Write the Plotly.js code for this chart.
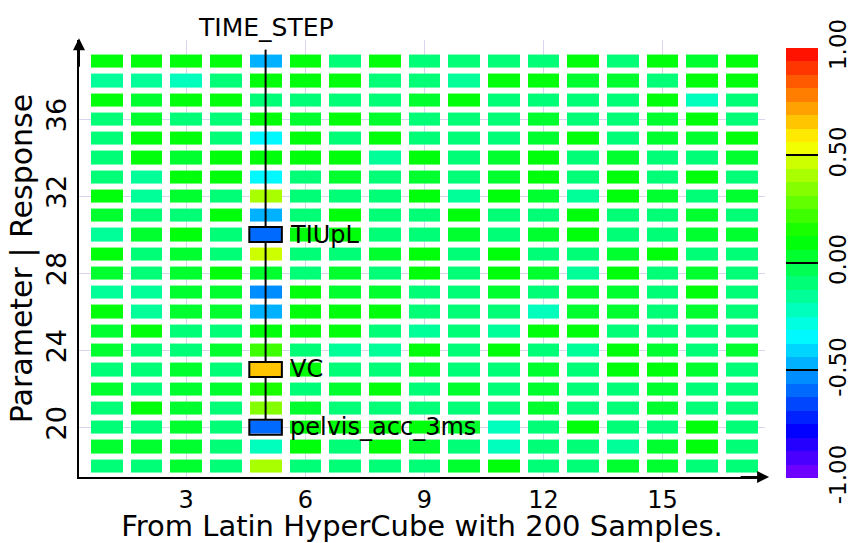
<!DOCTYPE html>
<html>
<head>
<meta charset="utf-8">
<script src="https://cdn.plot.ly/plotly-3.0.1.min.js"></script>
<style>html,body{margin:0;padding:0;background:#fff;}#chart{width:848px;height:543px;}</style>
</head>
<body>
<div id="chart"></div>
<script>
// columns (parameter / time step index) and rows (response index)
const xCols = [1,2,3,4,5,6,7,8,9,10,11,12,13,14,15,16,17];
const yRows = [18,19,20,21,22,23,24,25,26,27,28,29,30,31,32,33,34,35,36,37,38,39];

// correlation values, one array per row (row 18 at bottom ... row 39 at top)
const row18 = [-0.09,-0.09,0.02,-0.09,0.43,-0.09,-0.09,-0.09,-0.09,0.02,0.1,-0.09,-0.09,0.02,0.02,-0.09,-0.09];
const row19 = [0.02,0.02,0.02,-0.09,-0.21,0.11,-0.09,0.1,0.02,-0.09,-0.19,-0.09,-0.09,-0.15,0.02,0.11,-0.09];
const row20 = [-0.09,-0.09,0.02,-0.09,-0.6,0.1,0.1,0.1,0.1,0.02,-0.19,-0.09,0.11,-0.09,-0.11,0.11,-0.09];
const row21 = [-0.09,0.12,0.02,-0.09,0.32,0.06,-0.09,-0.08,-0.09,-0.09,-0.09,0.02,-0.09,-0.08,0.02,-0.09,-0.09];
const row22 = [0.02,-0.09,0.02,0.02,0.15,-0.09,0.02,0.11,-0.09,0.02,-0.09,0.02,-0.09,-0.08,0.02,-0.12,-0.09];
const row23 = [-0.08,-0.09,0.02,-0.09,0.67,0.11,-0.09,-0.09,0.02,-0.09,-0.1,0.02,-0.09,0.1,0.11,0.02,-0.09];
const row24 = [0.06,-0.09,-0.09,0.02,0.2,-0.09,-0.15,-0.15,0.11,-0.09,0.11,-0.09,-0.17,0.1,0.02,-0.09,0.02];
const row25 = [0.02,0.12,-0.09,-0.09,0.1,0.11,0.11,-0.09,-0.17,-0.09,-0.17,0.12,0.12,-0.08,-0.08,-0.09,-0.09];
const row26 = [0.08,-0.15,0.02,0.02,-0.5,0.11,0.11,0.1,-0.09,-0.09,-0.09,-0.19,0.02,0.02,-0.08,0.02,-0.09];
const row27 = [-0.17,-0.15,0.02,0.02,-0.52,0.1,0.02,0.02,-0.09,-0.09,0.02,-0.11,0.02,0.02,-0.08,0.1,-0.09];
const row28 = [0.02,-0.09,0.02,0.12,0.06,-0.09,0.02,-0.09,0.11,-0.09,0.1,0.03,-0.17,0.12,-0.08,0.03,-0.09];
const row29 = [0.1,-0.09,0.02,-0.09,0.47,-0.09,-0.09,0.02,0.1,-0.09,0.1,-0.09,-0.08,0.02,0.08,-0.09,-0.09];
const row30 = [-0.17,0.0,0.12,-0.08,-0.62,0.11,0.1,-0.09,-0.09,0.02,-0.1,0.02,0.11,-0.09,-0.08,0.02,0.02];
const row31 = [0.02,-0.09,-0.08,0.11,-0.45,-0.09,0.11,-0.08,-0.09,0.11,-0.09,-0.09,0.11,-0.08,-0.1,0.02,-0.11];
const row32 = [0.1,-0.14,0.02,-0.09,0.42,-0.09,-0.09,-0.08,0.11,-0.15,0.1,0.02,-0.17,0.11,0.02,-0.09,0.02];
const row33 = [-0.09,-0.14,0.1,0.11,-0.35,-0.1,0.02,-0.08,0.02,-0.09,0.04,0.1,-0.09,0.1,-0.1,0.1,-0.11];
const row34 = [-0.09,0.11,0.02,0.1,0.1,0.08,0.1,-0.18,0.11,-0.09,0.02,0.1,-0.09,0.02,-0.08,-0.08,0.02];
const row35 = [-0.09,0.11,0.11,-0.09,-0.36,0.1,-0.09,0.11,-0.09,-0.08,-0.09,0.02,0.11,-0.1,0.02,0.02,0.11];
const row36 = [-0.09,0.02,-0.09,-0.09,0.1,0.02,0.1,0.02,-0.09,-0.09,-0.1,0.02,-0.09,-0.09,0.02,0.1,-0.09];
const row37 = [0.11,0.02,0.11,0.1,-0.1,-0.09,-0.09,-0.09,0.02,0.11,-0.09,-0.11,-0.09,-0.09,0.11,-0.2,-0.09];
const row38 = [-0.15,-0.15,-0.19,-0.08,0.1,0.1,0.1,-0.09,-0.1,-0.14,0.1,0.1,0.02,0.02,-0.11,0.1,0.1];
const row39 = [0.08,0.1,0.08,0.08,-0.5,0.1,-0.09,0.1,-0.09,-0.08,-0.09,-0.09,0.1,-0.08,0.1,0.02,0.1];

// highlighted time step column and responses
const timeStepCol = 5;
const timeStepLabel = 'TIME_STEP';
const respNames = ['TIUpL','VC','pelvis_acc_3ms'];
const respRows = [30,23,20];

// tick labels
const xTicks = [3,6,9,12,15];
const yTicks = [20,24,28,32,36];
const cbTicks = [-1,-0.5,0,0.5,1];
const cbTickText = ['-1.00','-0.50','0.00','0.50','1.00'];

const z = [row18,row19,row20,row21,row22,row23,row24,row25,row26,row27,row28,row29,row30,row31,row32,row33,row34,row35,row36,row37,row38,row39];

// banded rainbow colour scale (purple -> red), 32 bands
const nBands = 32;
const colorscale = [];
for (let i = 0; i < nBands; i++) {
  const h = 270 - (i + 0.5) * 270 / nBands;
  const c = 'hsl(' + h.toFixed(2) + ',100%,50%)';
  colorscale.push([i / nBands, c]);
  colorscale.push([(i + 1) / nBands, c]);
}

const FONT = 'DejaVu Sans, Verdana, sans-serif';
const boxHW = 0.41, boxHH = 0.39, lineTop = 39.6;

// connector line between highlighted cells (broken at boxes)
const sorted = respRows.slice().sort((a,b)=>b-a);
const lx = [], ly = [];
let prevTop = lineTop;
sorted.forEach((r) => {
  lx.push(timeStepCol, timeStepCol, null);
  ly.push(prevTop, r + boxHH, null);
  prevTop = r - boxHH;
});

const heat = {
  type: 'heatmap',
  x: xCols, y: yRows, z: z,
  zmin: -1, zmax: 1,
  colorscale: colorscale,
  xgap: 8, ygap: 6,
  hoverinfo: 'skip',
  colorbar: {
    thickness: 32, thicknessmode: 'pixels',
    len: 430, lenmode: 'pixels',
    x: 1.0306, xanchor: 'left', xpad: 0,
    y: 0.49, yanchor: 'middle', ypad: 0,
    outlinewidth: 0,
    tickmode: 'array', tickvals: cbTicks, ticktext: cbTickText,
    ticks: 'inside', ticklen: 32, tickwidth: 2, tickcolor: '#000',
    tickangle: -90,
    tickfont: {family: FONT, size: 23, color: '#000'}
  }
};

const conn = {
  type: 'scatter', mode: 'lines',
  x: lx, y: ly,
  line: {color: '#000', width: 2},
  hoverinfo: 'skip', showlegend: false
};

const shapes = respRows.map(r => ({
  type: 'rect', xref: 'x', yref: 'y',
  x0: timeStepCol - boxHW, x1: timeStepCol + boxHW,
  y0: r - boxHH, y1: r + boxHH,
  line: {color: '#000', width: 2}, fillcolor: 'rgba(0,0,0,0)', layer: 'above'
}));

const annotations = respNames.map((n, i) => ({
  x: timeStepCol + boxHW, y: respRows[i], xref: 'x', yref: 'y',
  xanchor: 'left', yanchor: 'middle', xshift: 6,
  text: n, showarrow: false,
  font: {family: FONT, size: 24, color: '#000'}
}));
annotations.push({
  x: timeStepCol, y: 1, xref: 'x', yref: 'paper',
  xanchor: 'center', yanchor: 'bottom', yshift: -4,
  text: timeStepLabel, showarrow: false,
  font: {family: FONT, size: 25, color: '#000'}
});
// axis arrowheads
annotations.push({x: 1.006, y: 0, xref: 'paper', yref: 'paper', ax: -30, ay: 0,
  showarrow: true, arrowhead: 2, arrowsize: 1.2, arrowwidth: 2, arrowcolor: '#000', text: ''});
annotations.push({x: 0, y: 1.004, xref: 'paper', yref: 'paper', ax: 0, ay: 30,
  showarrow: true, arrowhead: 2, arrowsize: 1.2, arrowwidth: 2, arrowcolor: '#000', text: ''});

const layout = {
  width: 848, height: 543,
  margin: {l: 79, r: 83, t: 40, b: 66, autoexpand: false},
  paper_bgcolor: '#fff', plot_bgcolor: '#fff',
  font: {family: FONT, color: '#000'},
  showlegend: false,
  xaxis: {
    range: [0.3, 17.58], tickmode: 'array', tickvals: xTicks,
    ticks: '', showgrid: true, gridcolor: '#d6d6f2', gridwidth: 1,
    zeroline: false, showline: true, linecolor: '#000', linewidth: 2,
    automargin: false,
    tickfont: {family: FONT, size: 24, color: '#000'},
    title: {text: 'From Latin HyperCube with 200 Samples.', font: {family: FONT, size: 29, color: '#000'}, standoff: 0}
  },
  yaxis: {
    range: [17.42, 40.1], tickmode: 'array', tickvals: yTicks,
    ticks: '', showgrid: true, gridcolor: '#d6d6f2', gridwidth: 1,
    zeroline: false, showline: true, linecolor: '#000', linewidth: 2,
    automargin: false,
    tickangle: -90,
    tickfont: {family: FONT, size: 27, color: '#000'},
    title: {text: 'Parameter | Response', font: {family: FONT, size: 30, color: '#000'}, standoff: 0}
  },
  shapes: shapes,
  annotations: annotations
};

Plotly.newPlot('chart', [heat, conn], layout, {displayModeBar: false, staticPlot: true});
</script>
</body>
</html>
